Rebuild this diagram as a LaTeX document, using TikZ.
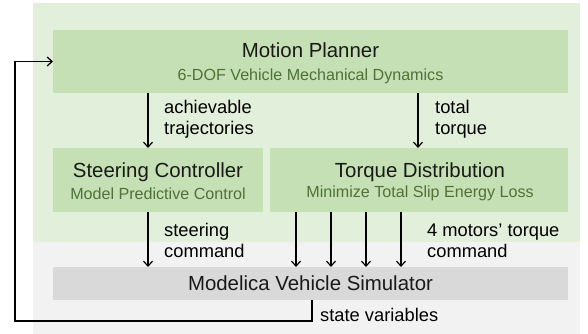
\documentclass[tikz,border=0pt]{standalone}
\usepackage{fontspec}
\setmainfont{Liberation Sans}
\usetikzlibrary{arrows.meta}
\definecolor{bglight}{HTML}{E2EFDA}
\definecolor{boxgreen}{HTML}{C5E0B4}
\definecolor{subgreen}{HTML}{4E7238}
\definecolor{bggray}{HTML}{F2F2F2}
\definecolor{boxgray}{HTML}{D9D9D9}
\tikzset{
  box/.style={rectangle, fill=boxgreen, draw=none, inner sep=0pt, outer sep=0pt},
  graybox/.style={rectangle, fill=boxgray, draw=none, inner sep=0pt, outer sep=0pt},
  ttl/.style={inner sep=0pt, font=\fontsize{20.4}{24}\selectfont, text=black!90},
  sub/.style={inner sep=0pt, font=\fontsize{16.1}{19}\selectfont, text=subgreen},
  lbl/.style={inner sep=0pt, anchor=west, align=left, font=\fontsize{18.3}{21}\selectfont},
  arr/.style={-{Straight Barb[length=5pt,width=9pt]}, line width=1.2pt},
}
\begin{document}
\begin{tikzpicture}[x=1pt,y=-1pt]
\useasboundingbox (0,0) rectangle (588,334);
\fill[bglight] (33,3) rectangle (580,242);
\fill[bggray] (33,242) rectangle (580,334);

\node[box, minimum width=515pt, minimum height=63pt] (mp) at (310.5,61.5) {};
\node[box, minimum width=210pt, minimum height=64pt] (sc) at (158,180) {};
\node[box, minimum width=298pt, minimum height=64pt] (td) at (419,180) {};
\node[graybox, minimum width=515pt, minimum height=33pt] (sim) at (310.5,283.5) {};

\node[ttl] (mpt) at (310.5,50) {Motion Planner};
\node[sub] (mps) at (310.5,76) {6-DOF Vehicle Mechanical Dynamics};
\node[ttl] (sct) at (158,172) {Steering Controller};
\node[sub] (scs) at (158,193.5) {Model Predictive Control};
\node[ttl] (tdt) at (420,172) {Torque Distribution};
\node[sub] (tds) at (420,193.5) {Minimize Total Slip Energy Loss};
\node[ttl] (simt) at (310.5,283.5) {Modelica Vehicle Simulator};

\coordinate (xa) at (148,0);
\coordinate (xb) at (418,0);
\coordinate (x1) at (296,0);
\coordinate (x2) at (331,0);
\coordinate (x3) at (366,0);
\coordinate (x4) at (401,0);
\coordinate (fb) at (312,0);
\coordinate (fbl) at (15,321);

\draw[arr] (mp.south -| xa) -- (sc.north -| xa);
\draw[arr] (mp.south -| xb) -- (td.north -| xb);
\draw[arr] (sc.south -| xa) -- (sim.north -| xa);
\draw[arr] (td.south -| x1) -- (sim.north -| x1);
\draw[arr] (td.south -| x2) -- (sim.north -| x2);
\draw[arr] (td.south -| x3) -- (sim.north -| x3);
\draw[arr] (td.south -| x4) -- (sim.north -| x4);
\draw[arr] (sim.south -| fb) |- (fbl) |- (mp.west);

\node[lbl] (l1) at (164,119) {achievable\\trajectories};
\node[lbl] (l2) at (435,119) {total\\torque};
\node[lbl] (l3) at (164,240.5) {steering\\command};
\node[lbl] (l4) at (427,240.5) {4 motors’ torque\\command};
\node[lbl] (l5) at (320,315) {state variables};
\end{tikzpicture}
\end{document}
